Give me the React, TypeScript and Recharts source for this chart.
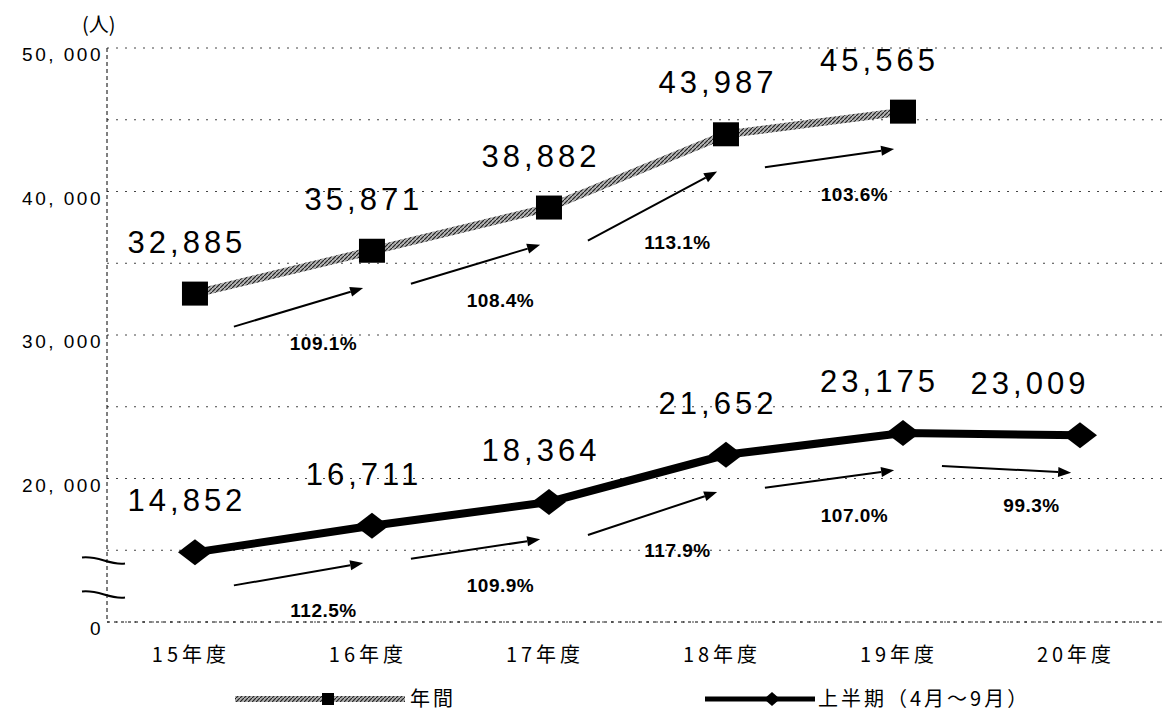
import React from 'react';
import {
  LineChart,
  Line,
  XAxis,
  YAxis,
  CartesianGrid,
  ReferenceLine,
  LabelList,
  Legend,
} from 'recharts';

const categories = ['15年度', '16年度', '17年度', '18年度', '19年度', '20年度'];
const annualValues: (number | null)[] = [32885, 35871, 38882, 43987, 45565, null];
const firstHalfValues: number[] = [14852, 16711, 18364, 21652, 23175, 23009];
const annualGrowth = ['109.1%', '108.4%', '113.1%', '103.6%'];
const firstHalfGrowth = ['112.5%', '109.9%', '117.9%', '107.0%', '99.3%'];
const yGridTicks = [10000, 15000, 20000, 25000, 30000, 35000, 40000, 45000, 50000];
const yLabelTicks = [10000, 20000, 30000, 40000, 50000];
const yLabelTexts = ['0', '20, 000', '30, 000', '40, 000', '50, 000'];
const seriesNames = ['年間', '上半期（4月～9月）'];
const unitLabel = '(人)';

const data = categories.map((name, i) => ({
  idx: i,
  name,
  annual: annualValues[i],
  firstHalf: firstHalfValues[i],
}));

const NUM_FONT = '"Liberation Sans", Arial, sans-serif';
const JP_FONT = '"Noto Sans CJK JP", "Liberation Sans", sans-serif';

const fmt = (v: number) => v.toLocaleString('en-US');

const SquareDot = (p: any) => {
  if (p.cx == null || p.cy == null || p.value == null) return <g key={p.key} />;
  return <rect key={p.key} x={p.cx - 13} y={p.cy - 12} width={26} height={24} fill="#000" />;
};

const DiamondDot = (p: any) => {
  if (p.cx == null || p.cy == null) return <g key={p.key} />;
  const { cx, cy } = p;
  return (
    <polygon
      key={p.key}
      points={`${cx - 17},${cy} ${cx},${cy - 13} ${cx + 17},${cy} ${cx},${cy + 13}`}
      fill="#000"
    />
  );
};

const ValueLabel = (p: any) => {
  const { x, y, value } = p;
  if (value == null || x == null) return null;
  const dx = -8 - Math.max(0, x - 800) * 0.15;
  return (
    <text
      x={x + dx}
      y={y - 41}
      textAnchor="middle"
      fontFamily={NUM_FONT}
      fontSize={31}
      letterSpacing={4}
      fill="#000"
    >
      {fmt(value)}
    </text>
  );
};

const makeArrow = (label: string) => (p: any) => {
  const { x1, y1, x2, y2 } = p;
  if ([x1, y1, x2, y2].some((v) => v == null || isNaN(v))) return <g />;
  const ang = Math.atan2(y2 - y1, x2 - x1);
  const len = 13;
  const w = 5;
  const bx = x2 - len * Math.cos(ang);
  const by = y2 - len * Math.sin(ang);
  const px = -Math.sin(ang) * w;
  const py = Math.cos(ang) * w;
  const mx = (x1 + x2) / 2;
  const my = (y1 + y2) / 2;
  return (
    <g>
      <line x1={x1} y1={y1} x2={bx} y2={by} stroke="#000" strokeWidth={2} />
      <polygon points={`${x2},${y2} ${bx + px},${by + py} ${bx - px},${by - py}`} fill="#000" />
      <text
        x={mx + 25}
        y={my + 43}
        textAnchor="middle"
        fontFamily={NUM_FONT}
        fontWeight="bold"
        fontSize={19}
        letterSpacing={0.5}
        fill="#000"
      >
        {label}
      </text>
    </g>
  );
};

const AxisBreak = (p: any) => {
  const { x1, y1 } = p;
  if (x1 == null || y1 == null) return <g />;
  const x = x1;
  const y = y1;
  const curve = (yy: number) =>
    `M ${x - 25},${yy - 3} C ${x - 8},${yy - 5} ${x + 2},${yy + 5} ${x + 18},${yy + 3}`;
  return (
    <g>
      <rect x={x - 4} y={y - 16} width={8} height={32} fill="#fff" />
      <path d={curve(y - 17)} stroke="#000" strokeWidth={2} fill="none" />
      <path d={curve(y + 17)} stroke="#000" strokeWidth={2} fill="none" />
    </g>
  );
};

const YTick = (p: any) => {
  const { x, y, payload } = p;
  const i = yLabelTicks.indexOf(payload.value);
  if (i < 0) return <g />;
  return (
    <text
      x={x - 4}
      y={y + 13}
      textAnchor="end"
      fontFamily={NUM_FONT}
      fontSize={19}
      letterSpacing={2.5}
      fill="#000"
    >
      {yLabelTexts[i]}
    </text>
  );
};

const XTick = (p: any) => {
  const { x, y, payload } = p;
  return (
    <text
      x={x - 4}
      y={y + 40}
      textAnchor="middle"
      fontFamily={JP_FONT}
      fontSize={20}
      letterSpacing={4}
      fill="#000"
    >
      {categories[payload.value]}
    </text>
  );
};

const LegendContent = () => (
  <svg width={1163} height={36} style={{ display: 'block' }}>
    <defs>
      <pattern id="hatchLegend" patternUnits="userSpaceOnUse" width="4" height="4">
        <rect width="4" height="4" fill="#b0b0b0" />
        <path d="M0,4 L4,0" stroke="#222" strokeWidth="1.2" />
      </pattern>
    </defs>
    <line x1={235} y1={17} x2={405} y2={17} stroke="url(#hatchLegend) #888" strokeWidth={6} />
    <rect x={322} y={11} width={12} height={12} fill="#000" />
    <text x={410} y={24} fontFamily={JP_FONT} fontSize={20} letterSpacing={3} fill="#000">
      {seriesNames[0]}
    </text>
    <line x1={705} y1={17} x2={815} y2={17} stroke="#000" strokeWidth={5} />
    <polygon points="764,17 772,10 780,17 772,24" fill="#000" />
    <text x={818} y={24} fontFamily={JP_FONT} fontSize={20} letterSpacing={3} fill="#000">
      {seriesNames[1]}
    </text>
  </svg>
);

export default function App() {
  const annualArrows = annualGrowth.map((g, i) => ({
    label: g,
    seg: [
      { x: i + 0.22, y: (annualValues[i] as number) - 2300 },
      { x: i + 0.95, y: (annualValues[i + 1] as number) - 2600 },
    ],
  }));
  const halfArrows = firstHalfGrowth.map((g, i) => ({
    label: g,
    seg: [
      { x: i + 0.22, y: firstHalfValues[i] - 2300 },
      { x: i + 0.95, y: firstHalfValues[i + 1] - 2600 },
    ],
  }));

  return (
    <div style={{ position: 'absolute', left: 0, top: 0, width: 1163, height: 715, background: '#fff' }}>
      <div
        style={{
          position: 'absolute',
          left: 82,
          top: 12,
          fontFamily: JP_FONT,
          fontSize: 20,
          lineHeight: '24px',
          color: '#000',
        }}
      >
        {unitLabel}
      </div>
      <LineChart
        width={1163}
        height={715}
        data={data}
        margin={{ top: 48, right: 0, bottom: 63, left: 7 }}
      >
        <defs>
          <pattern id="hatch" patternUnits="userSpaceOnUse" width="4" height="4">
            <rect width="4" height="4" fill="#b5b5b5" />
            <path d="M0,4 L4,0" stroke="#222" strokeWidth="1.2" />
          </pattern>
        </defs>
        <CartesianGrid horizontal vertical={false} stroke="#444" strokeDasharray="2 7" />
        <XAxis
          dataKey="idx"
          type="number"
          domain={[-0.497, 5.469]}
          ticks={[0, 1, 2, 3, 4, 5]}
          allowDataOverflow
          interval={0}
          height={30}
          tickLine={false}
          tickSize={0}
          tickMargin={0}
          axisLine={{ stroke: '#000', strokeDasharray: '3 4' }}
          tick={<XTick />}
        />
        <YAxis
          type="number"
          domain={[10000, 50000]}
          ticks={yGridTicks}
          allowDataOverflow
          interval={0}
          width={100}
          tickLine={false}
          tickSize={0}
          tickMargin={0}
          axisLine={{ stroke: '#000', strokeDasharray: '4 3' }}
          tick={<YTick />}
        />
        <ReferenceLine y={13100} stroke="none" shape={<AxisBreak />} ifOverflow="visible" />
        {annualArrows.map((a, i) => (
          <ReferenceLine
            key={`aa${i}`}
            segment={a.seg}
            stroke="#000"
            ifOverflow="visible"
            shape={makeArrow(a.label)}
          />
        ))}
        {halfArrows.map((a, i) => (
          <ReferenceLine
            key={`ha${i}`}
            segment={a.seg}
            stroke="#000"
            ifOverflow="visible"
            shape={makeArrow(a.label)}
          />
        ))}
        <Line
          dataKey="annual"
          name={seriesNames[0]}
          stroke="url(#hatch) #8a8a8a"
          strokeWidth={8}
          dot={<SquareDot />}
          activeDot={false}
          connectNulls={false}
          isAnimationActive={false}
        >
          <LabelList dataKey="annual" content={<ValueLabel />} />
        </Line>
        <Line
          dataKey="firstHalf"
          name={seriesNames[1]}
          stroke="#000"
          strokeWidth={8}
          dot={<DiamondDot />}
          activeDot={false}
          isAnimationActive={false}
        >
          <LabelList dataKey="firstHalf" content={<ValueLabel />} />
        </Line>
        <Legend
          layout="horizontal"
          verticalAlign="middle"
          align="center"
          content={<LegendContent />}
          wrapperStyle={{ position: 'absolute', left: 0, top: 682, width: 1163, height: 36 }}
        />
      </LineChart>
    </div>
  );
}
